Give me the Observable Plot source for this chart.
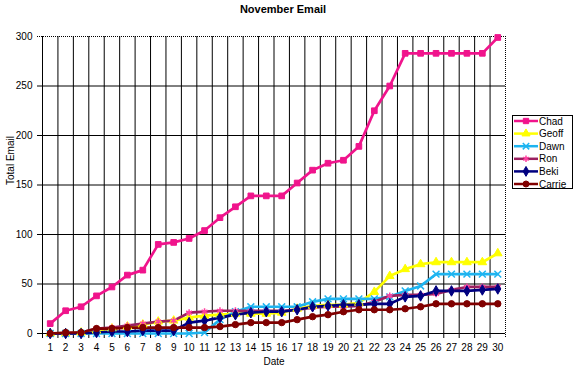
<!DOCTYPE html>
<html>
<head>
<meta charset="utf-8">
<script src="https://cdn.jsdelivr.net/npm/d3@7"></script>
<script src="https://cdn.jsdelivr.net/npm/@observablehq/plot@0.6"></script>
<style>
  html, body { margin: 0; padding: 0; background: #fff; }
  #chart { width: 575px; height: 368px; }
</style>
</head>
<body>
<div id="chart"></div>
<script>
const title = "November Email";
const xLabel = "Date";
const yLabel = "Total Email";
const days = d3.range(1, 31);
const yTicks = [0, 50, 100, 150, 200, 250, 300];
const seriesNames = ["Chad", "Geoff", "Dawn", "Ron", "Beki", "Carrie"];

const chad   = [10,23,27,38,47,59,64,90,92,96,104,117,128,139,139,139,152,165,172,175,189,225,250,283,283,283,283,283,283,299];
const geoff  = [0,0,1,3,5,7,9,12,13,16,18,19,20,20,20,21,25,28,29,29,31,42,58,65,70,72,72,72,72,81];
const dawn   = [0,0,0,0,0,0,0,0,0,0,1,14,22,27,27,27,27,32,35,35,35,35,37,43,48,60,60,60,60,60];
const ron    = [0,0,1,5,6,8,10,12,13,21,22,23,23,23,23,23,24,26,27,27,28,32,38,39,39,40,44,47,47,47];
const beki   = [0,0,0,1,2,2,3,3,3,11,13,16,19,21,22,22,24,27,28,29,29,30,30,37,38,43,43,43,44,45];
const carrie = [0,1,1,5,5,6,6,6,6,6,6,7,9,11,11,11,14,17,19,22,24,24,24,25,27,30,30,30,30,30];

const lineColors   = ["#F0148C", "#FFFF00", "#1EB4F0", "#9B2060", "#000080", "#800000"];
const markerColors = ["#F0148C", "#FFFF00", "#1EB4F0", "#FF40A0", "#000080", "#800000"];
const symbols      = ["square", "triangle", "times", "asterisk", "diamond", "circle"];

const values = [chad, geoff, dawn, ron, beki, carrie];
const rows = seriesNames.flatMap((name, i) => values[i].map((v, j) => ({name, day: days[j], value: v})));
const boundaries = d3.range(0.5, 31, 1);
const font = "'Liberation Sans', Arial, sans-serif";

const plot = Plot.plot({
  width: 575,
  height: 368,
  marginLeft: 42,
  marginRight: 70,
  marginTop: 36,
  marginBottom: 35,
  style: {fontFamily: font, fontSize: "10px", background: "#fff", color: "#000", overflow: "visible"},
  x: {domain: [0.5, 30.5]},
  y: {domain: [0, 300]},
  color: {domain: seriesNames, range: lineColors},
  symbol: {domain: seriesNames, range: symbols},
  marks: [
    Plot.ruleX(boundaries.slice(1, -1), {stroke: "#000", strokeWidth: 1, insetBottom: -5}),
    Plot.ruleY(yTicks.slice(1, -1), {stroke: "#000", strokeWidth: 1, insetLeft: -5}),
    Plot.ruleY([0], {stroke: "#000", strokeWidth: 1, insetLeft: -5}),
    Plot.ruleX([0.5], {stroke: "#000", strokeWidth: 1, insetBottom: -5}),
    Plot.ruleY([300], {stroke: "#000", strokeWidth: 1, strokeDasharray: "1,1", insetLeft: -5}),
    Plot.ruleX([30.5], {stroke: "#000", strokeWidth: 1, strokeDasharray: "1,1", insetBottom: -5}),
    Plot.axisX({ticks: days, tickFormat: d => String(d), tickSize: 0, tickPadding: 10, label: null, fontSize: 10}),
    Plot.axisY({ticks: yTicks, tickSize: 0, tickPadding: 10, label: null, fontSize: 10}),
    Plot.line(rows, {x: "day", y: "value", z: "name", stroke: "name", strokeWidth: 2.7, strokeLinejoin: "round"}),
    ...seriesNames.map((name, i) =>
      Plot.dot(rows.filter(d => d.name === name), {
        x: "day", y: "value", symbol: "name",
        r: 3.2,
        fill: (symbols[i] === "times" || symbols[i] === "asterisk") ? "none" : markerColors[i],
        stroke: markerColors[i],
        strokeWidth: (symbols[i] === "times" || symbols[i] === "asterisk") ? 1.5 : 1
      })
    ),
    Plot.text([title], {frameAnchor: "top", dy: -31, dx: 9, fontWeight: "bold", fontSize: 11}),
    Plot.text([xLabel], {frameAnchor: "bottom", dy: 31, fontSize: 10}),
    Plot.text([yLabel], {frameAnchor: "left", dx: -32, rotate: -90, fontSize: 10})
  ]
});

// legend
const svg = d3.select(plot);
const lg = svg.append("g").attr("font-family", font).attr("font-size", 10).attr("text-anchor", "start");
const lx = 512, ly = 115, lw = 60, lh = 73, step = 12.6;
lg.append("rect").attr("x", lx + 0.5).attr("y", ly + 0.5).attr("width", lw).attr("height", lh)
  .attr("fill", "#fff").attr("stroke", "#000").attr("stroke-width", 1);
const symMap = {square: d3.symbolSquare, triangle: d3.symbolTriangle, times: d3.symbolTimes,
                asterisk: d3.symbolAsterisk, diamond: d3.symbolDiamond, circle: d3.symbolCircle};
seriesNames.forEach((name, i) => {
  const cy = ly + 6 + i * step;
  lg.append("line").attr("x1", lx + 2).attr("x2", lx + 26).attr("y1", cy).attr("y2", cy)
    .attr("stroke", lineColors[i]).attr("stroke-width", 2.5);
  const open = symbols[i] === "times" || symbols[i] === "asterisk";
  lg.append("path").attr("d", d3.symbol(symMap[symbols[i]], Math.PI * 9)())
    .attr("transform", `translate(${lx + 14},${cy})`)
    .attr("fill", open ? "none" : markerColors[i])
    .attr("stroke", markerColors[i]).attr("stroke-width", open ? 1.5 : 1);
  lg.append("text").attr("x", lx + 27).attr("y", cy).attr("dy", "0.35em")
    .attr("text-anchor", "start").text(name);
});

document.getElementById("chart").appendChild(plot);
</script>
</body>
</html>
